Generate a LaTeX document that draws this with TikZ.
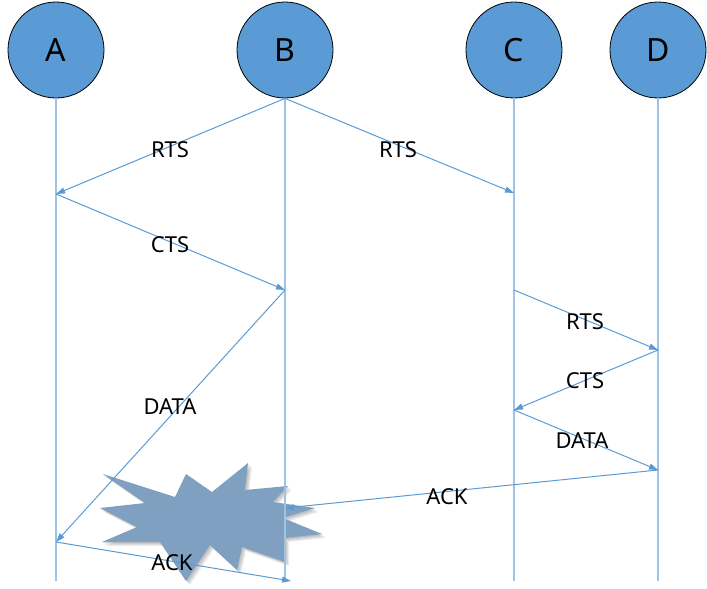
\documentclass[tikz,border=0pt]{standalone}
\usepackage{fontspec}
\setmainfont{Noto Sans}
\usetikzlibrary{arrows.meta}
\definecolor{peerblue}{RGB}{91,155,213}
\definecolor{lifeblue}{RGB}{157,195,230}
\definecolor{burstblue}{RGB}{127,160,192}

\begin{document}
\begin{tikzpicture}[x=1pt, y=-1pt,
    peer/.style={circle, draw=black, line width=0.8pt, fill=peerblue, minimum size=96pt, inner sep=0pt, font=\fontsize{32}{38}\selectfont},
    life/.style={lifeblue, line width=1.4pt},
    msg/.style={-{Triangle[length=9pt, width=6pt]}, peerblue, line width=1pt},
    lbl/.style={font=\fontsize{22}{26}\selectfont}]
    \useasboundingbox (0, 0) rectangle (707, 589);

    % collision, with a soft shadow
    \def\burst{(103,474) -- (175,497) -- (186,474) -- (212,492) -- (248,463) -- (245,490)
        -- (288,486) -- (273,502) -- (315,508) -- (283,518) -- (322,534) -- (285,538)
        -- (285,562) -- (242,547) -- (237,570) -- (210,545) -- (186,581) -- (160,542)
        -- (102,542) -- (137,527) -- (100,508) -- (145,503) -- cycle}
    \foreach \s in {1,2,3,4}
        \fill[black, opacity=0.07, shift={(\s,\s)}] \burst;
    \fill[burstblue] \burst;

    \node[peer] (A) at (56, 50) {A};
    \node[peer] (B) at (285, 50) {B};
    \node[peer] (C) at (514, 50) {C};
    \node[peer] (D) at (658, 50) {D};

    \coordinate (Aend) at (56, 581);
    \coordinate (Bend) at (285, 581);
    \coordinate (Cend) at (514, 581);
    \coordinate (Dend) at (658, 581);
    \draw[life] (A.south) -- (Aend);
    \draw[life] (B.south) -- (Bend);
    \draw[life] (C.south) -- (Cend);
    \draw[life] (D.south) -- (Dend);

    \coordinate (a1) at (56, 194);
    \coordinate (c1) at (514, 193);
    \coordinate (b1) at (285, 290);
    \coordinate (a2) at (56, 542);
    \coordinate (c2) at (514, 290);
    \coordinate (d1) at (658, 350);
    \coordinate (c3) at (514, 410);
    \coordinate (d2) at (658, 470);
    \coordinate (b2) at (285, 508);
    \coordinate (b3) at (291, 581);

    \draw[msg] (B.south) -- (a1);
    \draw[msg] (B.south) -- (c1);
    \draw[msg] (a1) -- (b1);
    \draw[msg] (b1) -- (a2);
    \draw[msg] (c2) -- (d1);
    \draw[msg] (d1) -- (c3);
    \draw[msg] (c3) -- (d2);
    \draw[msg] (d2) -- (b2);
    \draw[msg] (a2) -- (b3);

    \node[lbl] (rts1) at (170, 150) {RTS};
    \node[lbl] (rts2) at (398, 150) {RTS};
    \node[lbl] (cts1) at (170, 245) {CTS};
    \node[lbl] (data1) at (170, 407) {DATA};
    \node[lbl] (rts3) at (585, 322) {RTS};
    \node[lbl] (cts2) at (585, 381) {CTS};
    \node[lbl] (data2) at (582, 441) {DATA};
    \node[lbl] (ack1) at (447, 497) {ACK};
    \node[lbl] (ack2) at (172, 563) {ACK};
\end{tikzpicture}
\end{document}
